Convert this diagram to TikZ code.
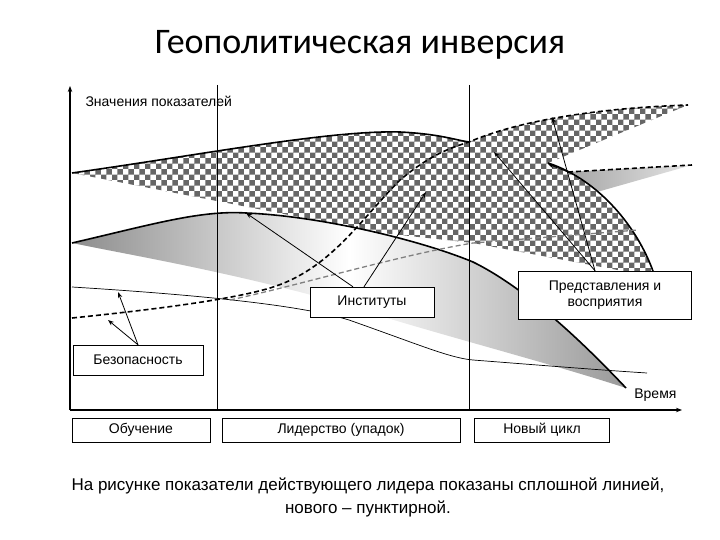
\documentclass[tikz,border=0pt]{standalone}
\usepackage{fontspec}
\setmainfont{Liberation Sans}
\newfontfamily\titlefont{Carlito}
\usetikzlibrary{patterns,arrows.meta}
\begin{document}
\begin{tikzpicture}[x=1pt,y=-1pt,
  lbl/.style={font=\fontsize{14}{16.5}\selectfont},
  box/.style={draw,fill=white,lbl,inner sep=0pt,align=center},
  thick1/.style={line width=1.6pt},
  dsh/.style={line width=1.6pt,dash pattern=on 5pt off 3pt},
  arr/.style={-{Stealth[length=6pt]},line width=0.8pt}]
\useasboundingbox (0,0) rectangle (720,540);
\node[font=\titlefont\fontsize{36}{40}\selectfont] (title) at (360,45) {Геополитическая инверсия};
% axes
\coordinate (o) at (70,410);
\coordinate (ytop) at (70,86);
\coordinate (xend) at (682,410);
\draw[-{Stealth[length=6pt]},line width=1.3pt] (o) -- (ytop);
\draw[-{Stealth[length=6pt]},line width=1.3pt] (o) -- (xend);
\node[lbl,anchor=west] (yl) at (82,101) {Значения показателей};
\node[lbl,anchor=east] (tl) at (680,395) {Время};
% gray lower region
\shade[left color=gray!90,right color=gray!80, middle color=white]
  (72,243) .. controls (150,225) and (200,210) .. (246,213)
  .. controls (320,216) and (420,240) .. (473,262)
  .. controls (530,290) and (590,350) .. (626,388)
  .. controls (540,360) and (420,330) .. (330,300)
  .. controls (220,270) and (130,255) .. (72,243) -- cycle;
% right small gray triangle
\shade[left color=gray!70,right color=gray!20] (568,172) -- (692,165) -- (597,192) -- cycle;
% checker region
\path[fill=white] (72,173) .. controls (200,155) and (330,130) .. (400,132)
  .. controls (440,134) and (455,140) .. (469,142)
  .. controls (520,120) and (600,108) .. (688,105)
  -- (548,163)
  .. controls (600,180) and (640,230) .. (655,277)
  -- (473,243) -- (382,233) -- cycle;
\path[pattern=checkerboard,pattern color=gray!80!black] (72,173) .. controls (200,155) and (330,130) .. (400,132)
  .. controls (440,134) and (455,140) .. (469,142)
  .. controls (520,120) and (600,108) .. (688,105)
  -- (548,163)
  .. controls (600,180) and (640,230) .. (655,277)
  -- (473,243) -- (382,233) -- cycle;
% verticals
\coordinate (v1t) at (217,85); \coordinate (v1b) at (217,410);
\coordinate (v2t) at (469,85); \coordinate (v2b) at (469,410);
\draw[line width=0.8pt] (v1t) -- (v1b);
\draw[line width=0.8pt] (v2t) -- (v2b);
% curves
\draw[thick1] (72,173) .. controls (200,155) and (330,130) .. (400,132)
  .. controls (440,134) and (455,140) .. (469,142);
\draw[thick1] (548,163) .. controls (600,180) and (640,230) .. (655,277);
\draw[thick1] (72,243) .. controls (150,225) and (200,210) .. (246,213)
  .. controls (320,216) and (420,240) .. (473,262)
  .. controls (530,290) and (590,350) .. (626,388);
\draw[line width=0.7pt] (72,287) .. controls (200,295) and (300,305) .. (349,320)
  .. controls (420,345) and (450,358) .. (473,360)
  .. controls (550,366) and (600,370) .. (647,373);
\draw[dsh] (72,318) .. controls (150,310) and (230,300) .. (270,288)
  .. controls (330,270) and (360,220) .. (400,180)
  .. controls (430,155) and (450,148) .. (469,142)
  .. controls (520,120) and (600,108) .. (688,105);
\draw[dsh] (568,172) -- (692,165);
\draw[dsh,gray,line width=1.3pt] (230,300) .. controls (300,285) and (400,255) .. (473,243)
  -- (638,230);
% boxes
\node[box,minimum width=130pt,minimum height=30pt] (bez) at (138,360) {Безопасность};
\node[box,minimum width=124pt,minimum height=30pt] (inst) at (372,302) {Институты};
\node[box,minimum width=173pt,minimum height=48pt] (pred) at (605,295) {Представления и\\восприятия};
\draw[arr] (bez.north) -- (118,292);
\draw[arr] (bez.north) -- (108,320);
\draw[arr] ([xshift=-19pt]inst.north) -- (246,213);
\draw[arr] ([xshift=-8pt]inst.north) -- (426,192);
\draw[arr] ([xshift=-10pt]pred.north) -- (494,152);
\draw[arr] ([xshift=-10pt]pred.north) -- (552,117);
\draw[arr] (568,172) -- (548,164);
% bottom phase boxes
\node[box,minimum width=138pt,minimum height=24pt] (ob) at (141,430) {Обучение};
\node[box,minimum width=238pt,minimum height=24pt] (lid) at (341,430) {Лидерство (упадок)};
\node[box,minimum width=135pt,minimum height=24pt] (nc) at (542,430) {Новый цикл};
\node[font=\fontsize{17}{23}\selectfont,align=center] (cap) at (368,497) {На рисунке показатели действующего лидера показаны сплошной линией,\\нового -- пунктирной.};
\end{tikzpicture}
\end{document}
